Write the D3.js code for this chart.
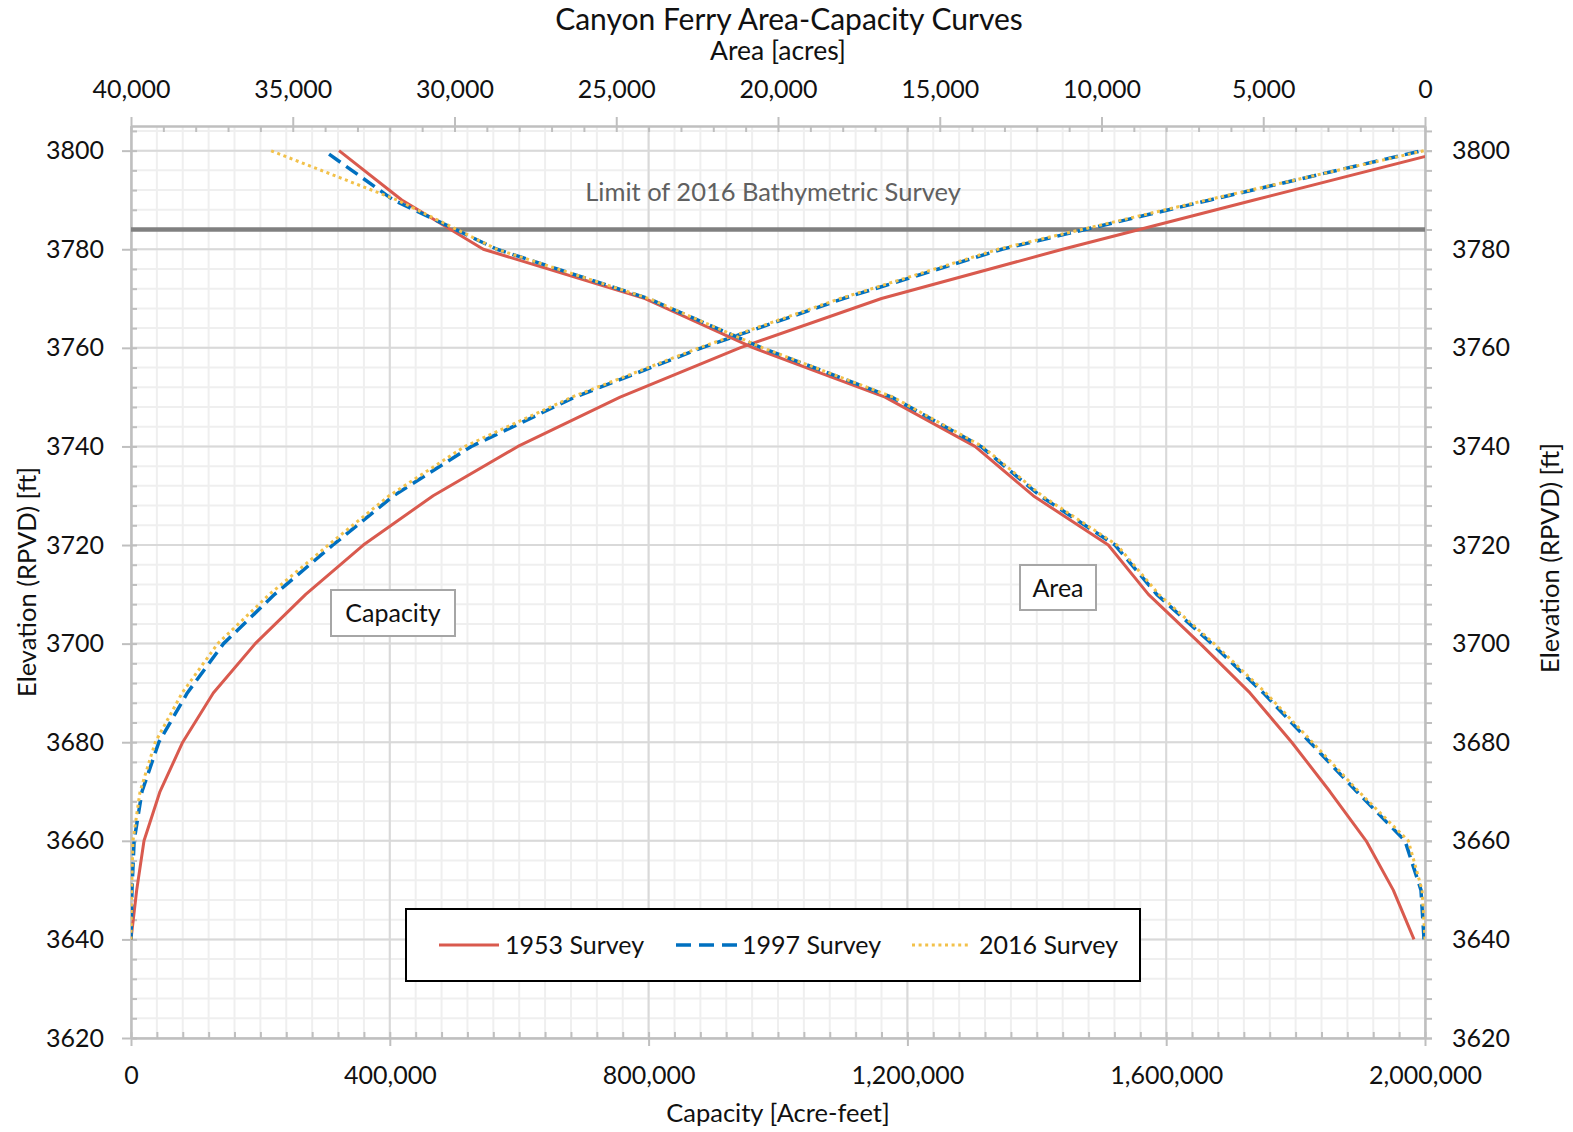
<!DOCTYPE html>
<html>
<head>
<meta charset="utf-8">
<script src="https://cdn.jsdelivr.net/npm/d3@7"></script>
<style>
  body { margin: 0; background: #fff; }
  text { font-family: Lato, "Open Sans", sans-serif; }
</style>
</head>
<body>
<svg id="chart" width="1573" height="1132"></svg>
<script>
// Reservoir elevations (ft, RPVD) at which the tables are tabulated
const elevations = [3640, 3650, 3660, 3670, 3680, 3690, 3700, 3710, 3720, 3730, 3740, 3750, 3760, 3770, 3780, 3790, 3800];

// Capacity [acre-feet] by survey
const capacity1953 = [0, 8800, 20100, 44800, 79900, 127200, 192000, 270000, 359000, 467000, 598000, 756000, 941000, 1160000, 1440000, 1736000, 2036000];
const capacity1997 = [0, 1500, 4800, 17000, 43000, 87000, 143000, 222000, 312000, 406000, 526000, 686000, 882000, 1101000, 1346000, 1668000, 1995000];
const capacity2016 = [0, 1000, 3000, 14000, 37500, 79000, 134000, 214000, 305000, 399000, 516000, 681000, 878000, 1096000, 1340000, 1663000, 1999000];

// Surface area [acres] by survey
const area1953 = [340, 980, 1820, 2940, 4120, 5410, 6950, 8550, 9790, 12110, 13910, 16690, 20760, 24110, 29110, 31630, 33570];
const area1997 = [30, 124, 618, 2112, 3555, 4997, 6594, 8293, 9582, 11900, 13730, 16485, 20500, 24010, 28690, 31890, 34030];
const area2016 = [0, 90, 515, 2050, 3480, 4920, 6520, 8230, 9520, 11840, 13680, 16440, 20470, 23990, 28690, 31780, 35680];

const surveyNames = ["1953 Survey", "1997 Survey", "2016 Survey"];
const surveyColors = ["#d95a4e", "#0070c0", "#f2c14a"];

const limitElevation = 3784;
const limitLabel = "Limit of 2016 Bathymetric Survey";

const capacityTicks = [0, 400000, 800000, 1200000, 1600000, 2000000];
const areaTicks = [40000, 35000, 30000, 25000, 20000, 15000, 10000, 5000, 0];
const elevationTicks = [3620, 3640, 3660, 3680, 3700, 3720, 3740, 3760, 3780, 3800];

const svg = d3.select("#chart");
const L = 131, R = 1425, T = 126, B = 1038;

const xCap = d3.scaleLinear().domain([0, 2000000]).range([L, R]);
const xArea = d3.scaleLinear().domain([40000, 0]).range([L, R]);
const y = d3.scaleLinear().domain([3620, 3805]).range([B, T]);

const axisColor = "#bfbfbf";
const labelColor = "#111";
const tickFont = 25;
const titleFont = 25.5;

// ---- gridlines ----
const grid = svg.append("g");
const minorY = d3.range(3620, 3805, 4);
const minorX = d3.range(0, 2000001, 40000);
grid.selectAll(".gyMinor").data(minorY).join("line")
  .attr("x1", L).attr("x2", R).attr("y1", d => y(d)).attr("y2", d => y(d))
  .attr("stroke", "#efefef").attr("stroke-width", 2);
grid.selectAll(".gxMinor").data(minorX).join("line")
  .attr("y1", T).attr("y2", B).attr("x1", d => xCap(d)).attr("x2", d => xCap(d))
  .attr("stroke", "#efefef").attr("stroke-width", 2);
grid.selectAll(".gyMajor").data(elevationTicks).join("line")
  .attr("x1", L).attr("x2", R).attr("y1", d => y(d)).attr("y2", d => y(d))
  .attr("stroke", "#d9d9d9").attr("stroke-width", 2);
grid.selectAll(".gxMajor").data(capacityTicks).join("line")
  .attr("y1", T).attr("y2", B).attr("x1", d => xCap(d)).attr("x2", d => xCap(d))
  .attr("stroke", "#d9d9d9").attr("stroke-width", 2);

// ---- axes ----
function styleAxis(g) {
  g.select(".domain").attr("stroke", axisColor).attr("stroke-width", 2);
  g.selectAll(".tick line").attr("stroke", axisColor).attr("stroke-width", 2);
  g.selectAll(".tick text").attr("fill", labelColor).style("font-size", tickFont + "px")
    .style("font-family", "Lato, 'Open Sans', sans-serif");
}
const fmt = d3.format(",");

// bottom: capacity
svg.append("g").attr("transform", `translate(0,${B})`)
  .call(d3.axisBottom(xCap).tickValues(minorX).tickSize(-6).tickFormat("").tickSizeOuter(0))
  .call(styleAxis);
svg.append("g").attr("transform", `translate(0,${B})`)
  .call(d3.axisBottom(xCap).tickValues(capacityTicks).tickSize(8).tickPadding(20).tickFormat(fmt).tickSizeOuter(0))
  .call(styleAxis);

// top: area (reversed)
svg.append("g").attr("transform", `translate(0,${T})`)
  .call(d3.axisTop(xArea).tickValues(d3.range(0, 40001, 1000)).tickSize(-6).tickFormat("").tickSizeOuter(0))
  .call(styleAxis);
svg.append("g").attr("transform", `translate(0,${T})`)
  .call(d3.axisTop(xArea).tickValues(areaTicks).tickSize(9).tickPadding(19).tickFormat(fmt).tickSizeOuter(0))
  .call(styleAxis);

// left: elevation
svg.append("g").attr("transform", `translate(${L},0)`)
  .call(d3.axisLeft(y).tickValues(minorY).tickSize(-6).tickFormat("").tickSizeOuter(0))
  .call(styleAxis);
svg.append("g").attr("transform", `translate(${L},0)`)
  .call(d3.axisLeft(y).tickValues(elevationTicks).tickSize(9).tickPadding(18).tickFormat(d3.format("d")).tickSizeOuter(0))
  .call(styleAxis);

// right: elevation
svg.append("g").attr("transform", `translate(${R},0)`)
  .call(d3.axisRight(y).tickValues(minorY).tickSize(7).tickFormat("").tickSizeOuter(0))
  .call(styleAxis);
svg.append("g").attr("transform", `translate(${R},0)`)
  .call(d3.axisRight(y).tickValues(elevationTicks).tickSize(7).tickPadding(20).tickFormat(d3.format("d")).tickSizeOuter(0))
  .call(styleAxis);

// ---- survey limit ----
svg.append("line")
  .attr("x1", L).attr("x2", R).attr("y1", y(limitElevation)).attr("y2", y(limitElevation))
  .attr("stroke", "#808080").attr("stroke-width", 4.5);
svg.append("text").text(limitLabel)
  .attr("x", 773).attr("y", 201).attr("text-anchor", "middle")
  .attr("fill", "#606060").style("font-size", titleFont + "px");

// ---- curves ----
svg.append("clipPath").attr("id", "plotClip")
  .append("rect").attr("x", L).attr("y", T).attr("width", R - L).attr("height", B - T);
const curves = svg.append("g").attr("clip-path", "url(#plotClip)");

const styles = [
  { dash: null, legendDash: null, width: 3 },
  { dash: "14 7", legendDash: "15 8", width: 3.5 },
  { dash: "3 3.6", legendDash: "3 3.6", width: 3 }
];

const capSeries = [capacity1953, capacity1997, capacity2016];
const areaSeries = [area1953, area1997, area2016];

const capLine = d3.line().x(d => xCap(d[0])).y(d => y(d[1]));
const areaLine = d3.line().x(d => xArea(d[0])).y(d => y(d[1]));

capSeries.forEach((vals, i) => {
  curves.append("path")
    .datum(vals.map((v, j) => [v, elevations[j]]))
    .attr("d", capLine)
    .attr("fill", "none").attr("stroke", surveyColors[i])
    .attr("stroke-width", styles[i].width)
    .attr("stroke-dasharray", styles[i].dash)
    .attr("stroke-linejoin", "round");
});
areaSeries.forEach((vals, i) => {
  curves.append("path")
    .datum(vals.map((v, j) => [v, elevations[j]]))
    .attr("d", areaLine)
    .attr("fill", "none").attr("stroke", surveyColors[i])
    .attr("stroke-width", styles[i].width)
    .attr("stroke-dasharray", styles[i].dash)
    .attr("stroke-linejoin", "round");
});

// ---- curve labels ----
function boxLabel(txt, x, yTop, w, h) {
  svg.append("rect").attr("x", x).attr("y", yTop).attr("width", w).attr("height", h)
    .attr("fill", "#fff").attr("stroke", "#a6a6a6").attr("stroke-width", 2);
  svg.append("text").text(txt).attr("x", x + w / 2).attr("y", yTop + h / 2 + 9)
    .attr("text-anchor", "middle").attr("fill", labelColor).style("font-size", "25px");
}
boxLabel("Capacity", 331, 590, 124, 46);
boxLabel("Area", 1020, 565, 76, 45);

// ---- legend ----
const legend = svg.append("g");
legend.append("rect").attr("x", 406).attr("y", 909).attr("width", 734).attr("height", 72)
  .attr("fill", "#fff").attr("stroke", "#000").attr("stroke-width", 2);
const legendItems = [
  { x0: 439, x1: 499, tx: 505 },
  { x0: 676, x1: 737, tx: 742 },
  { x0: 912, x1: 970, tx: 979 }
];
legendItems.forEach((it, i) => {
  legend.append("line").attr("x1", it.x0).attr("x2", it.x1).attr("y1", 945).attr("y2", 945)
    .attr("stroke", surveyColors[i]).attr("stroke-width", styles[i].width)
    .attr("stroke-dasharray", styles[i].legendDash);
  legend.append("text").text(surveyNames[i]).attr("x", it.tx).attr("y", 954)
    .attr("fill", labelColor).style("font-size", "25px");
});

// ---- titles ----
svg.append("text").text("Canyon Ferry Area-Capacity Curves")
  .attr("x", 789).attr("y", 30).attr("text-anchor", "middle")
  .attr("fill", labelColor).style("font-size", "30px");
svg.append("text").text("Area [acres]")
  .attr("x", 778).attr("y", 60).attr("text-anchor", "middle")
  .attr("fill", labelColor).style("font-size", "26.5px");
svg.append("text").text("Capacity [Acre-feet]")
  .attr("x", 778).attr("y", 1122).attr("text-anchor", "middle")
  .attr("fill", labelColor).style("font-size", titleFont + "px");
svg.append("text").text("Elevation (RPVD) [ft]")
  .attr("transform", "translate(27,582) rotate(-90)").attr("dy", "0.35em")
  .attr("text-anchor", "middle").attr("fill", labelColor).style("font-size", titleFont + "px");
svg.append("text").text("Elevation (RPVD) [ft]")
  .attr("transform", "translate(1550,558) rotate(-90)").attr("dy", "0.35em")
  .attr("text-anchor", "middle").attr("fill", labelColor).style("font-size", titleFont + "px");
</script>
</body>
</html>
